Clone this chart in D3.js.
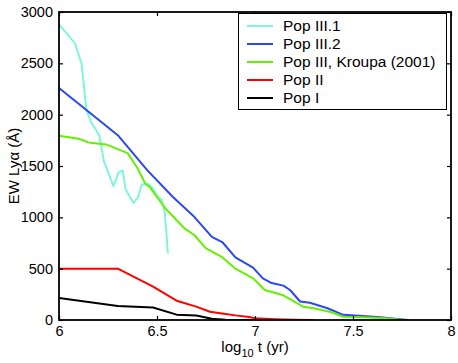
<!DOCTYPE html>
<html>
<head>
<meta charset="utf-8">
<script src="https://cdn.jsdelivr.net/npm/d3@7.9.0/dist/d3.min.js"></script>
<style>
  body { margin: 0; background: #fff; }
  svg { display: block; font-family: "Liberation Sans", Arial, Helvetica, sans-serif; }
</style>
</head>
<body>
<svg id="chart" width="458" height="363"></svg>
<script>
// data (log10 t in yr, EW in Angstrom)
const popIII1 = [
  [6.0, 2880], [6.04, 2790], [6.08, 2700], [6.115, 2500], [6.14, 2050], [6.165, 1920],
  [6.18, 1880], [6.205, 1800], [6.23, 1540], [6.255, 1420], [6.277, 1305], [6.305, 1440],
  [6.325, 1455], [6.34, 1270], [6.38, 1140], [6.405, 1200], [6.42, 1310], [6.44, 1330],
  [6.46, 1320], [6.475, 1290], [6.505, 1200], [6.525, 1170], [6.54, 1040], [6.55, 800],
  [6.555, 650]
];
const popIII2 = [
  [6.0, 2260], [6.3, 1800], [6.45, 1460], [6.58, 1200], [6.69, 1005], [6.78, 810],
  [6.835, 755], [6.9, 610], [6.99, 510], [7.04, 405], [7.085, 360], [7.145, 335],
  [7.18, 290], [7.23, 180], [7.28, 168], [7.37, 114], [7.45, 50], [7.55, 40],
  [7.64, 26], [7.74, 7], [7.78, 0]
];
const popIIIKroupa = [
  [6.0, 1795], [6.1, 1765], [6.15, 1730], [6.24, 1710], [6.35, 1625], [6.40, 1480],
  [6.44, 1330], [6.465, 1290], [6.53, 1120], [6.55, 1071], [6.64, 893], [6.69, 828],
  [6.75, 698], [6.83, 615], [6.9, 500], [6.99, 406], [7.05, 292], [7.14, 244],
  [7.245, 130], [7.3, 114], [7.38, 81], [7.45, 32], [7.55, 26], [7.67, 16], [7.76, 0]
];
const popII = [
  [6.0, 500], [6.3, 500], [6.48, 325], [6.6, 188], [6.7, 130], [6.77, 80], [6.84, 62],
  [6.9, 45], [6.97, 30], [7.0, 18], [7.1, 8], [7.2, 2], [7.3, 0]
];
const popI = [
  [6.0, 215], [6.3, 136], [6.48, 122], [6.6, 52], [6.7, 44], [6.78, 12], [6.85, 2], [7.0, 0]
];

const seriesNames = ['Pop III.1', 'Pop III.2', 'Pop III, Kroupa (2001)', 'Pop II', 'Pop I'];
const seriesData = [popIII1, popIII2, popIIIKroupa, popII, popI];
const seriesColors = ['#7ff5dc', '#2a48f5', '#66f000', '#ff0000', '#000000'];

const xTicks = [6, 6.5, 7, 7.5, 8];
const xTickLabels = ['6', '6.5', '7', '7.5', '8'];
const yTicks = [0, 500, 1000, 1500, 2000, 2500, 3000];
const yTickLabels = ['0', '500', '1000', '1500', '2000', '2500', '3000'];

const svg = d3.select('#chart');
const plotLeft = 59, plotRight = 451, plotTop = 12, plotBottom = 320;

const x = d3.scaleLinear().domain([6, 8]).range([plotLeft, plotRight]);
const y = d3.scaleLinear().domain([0, 3000]).range([plotBottom, plotTop]);

svg.append('clipPath').attr('id', 'plot-clip')
  .append('rect').attr('x', plotLeft).attr('y', plotTop)
  .attr('width', plotRight - plotLeft).attr('height', plotBottom - plotTop);

const line = d3.line().x((d) => x(d[0])).y((d) => y(d[1]));

const lines = svg.append('g').attr('clip-path', 'url(#plot-clip)');
seriesData.forEach((data, i) => {
  lines.append('path')
    .datum(data)
    .attr('d', line)
    .attr('fill', 'none')
    .attr('stroke', seriesColors[i])
    .attr('stroke-width', 2)
    .attr('stroke-linejoin', 'round');
});

// axes with inward ticks
function styleAxis(g) {
  g.select('.domain').remove();
  g.selectAll('.tick line').attr('stroke', '#000').attr('stroke-width', 1.2);
  g.selectAll('.tick text').attr('fill', '#000').attr('font-size', 14.5);
}

svg.append('g')
  .attr('transform', `translate(0,${plotBottom})`)
  .call(d3.axisBottom(x).tickValues(xTicks).tickSize(-4).tickPadding(6)
    .tickFormat((d, i) => xTickLabels[i]))
  .call(styleAxis);

svg.append('g')
  .attr('transform', `translate(0,${plotTop})`)
  .call(d3.axisTop(x).tickValues(xTicks).tickSize(-4).tickFormat(''))
  .call(styleAxis);

svg.append('g')
  .attr('transform', `translate(${plotLeft},0)`)
  .call(d3.axisLeft(y).tickValues(yTicks).tickSize(-4).tickPadding(6)
    .tickFormat((d, i) => yTickLabels[i]))
  .call(styleAxis);

svg.append('g')
  .attr('transform', `translate(${plotRight},0)`)
  .call(d3.axisRight(y).tickValues(yTicks).tickSize(-4).tickFormat(''))
  .call(styleAxis);

svg.append('rect')
  .attr('x', plotLeft).attr('y', plotTop)
  .attr('width', plotRight - plotLeft).attr('height', plotBottom - plotTop)
  .attr('fill', 'none').attr('stroke', '#000').attr('stroke-width', 1.8);

// axis labels
const xl = svg.append('text')
  .attr('x', (plotLeft + plotRight) / 2).attr('y', 352)
  .attr('text-anchor', 'middle').attr('font-size', 15);
xl.append('tspan').text('log');
xl.append('tspan').attr('font-size', 11).attr('dy', 5).text('10');
xl.append('tspan').attr('dy', -5).text(' t (yr)');

svg.append('text')
  .attr('transform', `translate(19,${(plotTop + plotBottom) / 2}) rotate(-90)`)
  .attr('text-anchor', 'middle').attr('font-size', 15)
  .text('EW Ly\u03b1 (\u00c5)');

// legend
const legend = svg.append('g');
legend.append('rect')
  .attr('x', 238.5).attr('y', 13.5).attr('width', 208).attr('height', 96)
  .attr('fill', '#fff').attr('stroke', '#000').attr('stroke-width', 1);

seriesNames.forEach((name, i) => {
  const ly = 26 + i * 18;
  legend.append('line')
    .attr('x1', 247).attr('x2', 273).attr('y1', ly).attr('y2', ly)
    .attr('stroke', seriesColors[i]).attr('stroke-width', 2);
  legend.append('text')
    .attr('x', 283).attr('y', ly + 5)
    .attr('font-size', 15.5).attr('fill', '#000')
    .text(name);
});
</script>
</body>
</html>
